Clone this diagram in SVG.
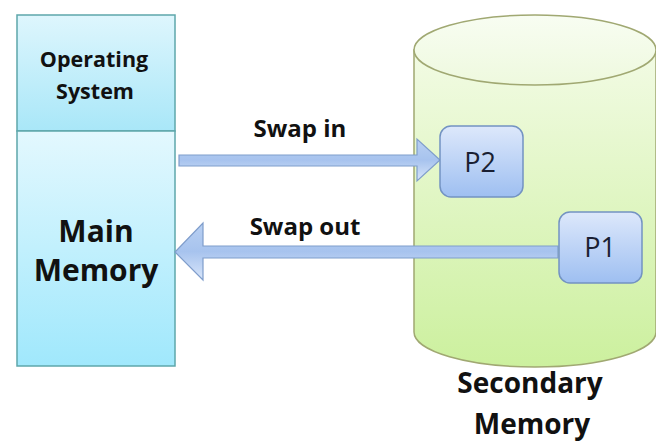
<svg xmlns="http://www.w3.org/2000/svg" width="656" height="443" viewBox="0 0 656 443">
<defs>
<linearGradient id="gOS" x1="0" y1="0" x2="0" y2="1"><stop offset="0" stop-color="#def6fd"/><stop offset="1" stop-color="#a9e7f8"/></linearGradient>
<linearGradient id="gMM" x1="0" y1="0" x2="0" y2="1"><stop offset="0" stop-color="#e3f8fe"/><stop offset="1" stop-color="#a0e8fc"/></linearGradient>
<linearGradient id="gCyl" x1="0" y1="0" x2="0" y2="1"><stop offset="0" stop-color="#f2fbe4"/><stop offset="1" stop-color="#ccf09e"/></linearGradient>
<linearGradient id="gTop" x1="0" y1="0" x2="0" y2="1"><stop offset="0" stop-color="#f8fdf2"/><stop offset="1" stop-color="#eef9de"/></linearGradient>
<linearGradient id="gP" x1="0" y1="0" x2="0" y2="1"><stop offset="0" stop-color="#dde8fb"/><stop offset="1" stop-color="#9ebff1"/></linearGradient>
<linearGradient id="gA" x1="0" y1="0" x2="0" y2="1"><stop offset="0" stop-color="#b9d0f2"/><stop offset="0.5" stop-color="#a7c3ee"/><stop offset="1" stop-color="#d9e6fa"/></linearGradient>
<style>
.box{stroke:#5ea7ab;stroke-width:1.5}
.cyl{stroke:#a0a872;stroke-width:1.5}
.p{fill:url(#gP);stroke:#7393c2;stroke-width:1.5}
.arr{fill:url(#gA);stroke:#7f9dcb;stroke-width:1.2}
.b{font-family:"Open Sans",sans-serif;font-weight:bold;fill:#111;text-anchor:middle}
.r{font-family:"Open Sans",sans-serif;fill:#1a1f33;text-anchor:middle}
</style>
</defs>
<rect width="656" height="443" fill="#fff"/>
<g id="secondary-memory">
<path class="cyl" d="M414,50 L414,332 A121,35 0 0 0 656,332 L656,50 Z" fill="url(#gCyl)"/>
<ellipse class="cyl" cx="535" cy="50" rx="121" ry="35" fill="url(#gTop)"/>
<text class="b" x="530" y="393" font-size="28">Secondary</text>
<text class="b" x="532" y="434" font-size="28">Memory</text>
</g>
<g id="operating-system">
<rect class="box" x="17" y="15" width="158" height="116" fill="url(#gOS)"/>
<text class="b" x="94" y="67" font-size="21.5">Operating</text>
<text class="b" x="95" y="99" font-size="21.5">System</text>
</g>
<g id="main-memory">
<rect class="box" x="17" y="131" width="158" height="235" fill="url(#gMM)"/>
<text class="b" x="96" y="242" font-size="30">Main</text>
<text class="b" x="96" y="281" font-size="30">Memory</text>
</g>
<g id="connectors">
<path class="arr" d="M179,155 L417,155 L417,139 L440,160 L417,181 L417,166 L179,166 Z"/>
<path class="arr" d="M558,246 L203,246 L203,223 L175,252 L203,280 L203,258 L558,258 Z"/>
<text class="b" x="300" y="137" font-size="24">Swap in</text>
<text class="b" x="305" y="235" font-size="24">Swap out</text>
</g>
<g id="p2">
<rect class="p" x="440" y="126" width="83" height="71" rx="11"/>
<text class="r" x="480" y="172" font-size="27">P2</text>
</g>
<g id="p1">
<rect class="p" x="559" y="212" width="83" height="71" rx="11"/>
<text class="r" x="600" y="257" font-size="27">P1</text>
</g>
</svg>
